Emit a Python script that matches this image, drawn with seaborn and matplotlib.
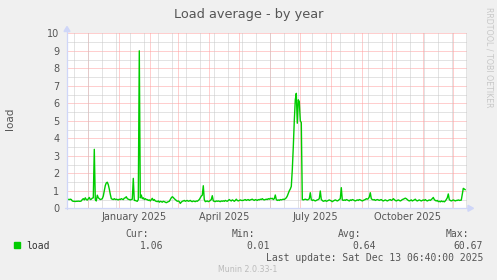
import matplotlib
matplotlib.use("Agg")
import matplotlib.pyplot as plt
import matplotlib.dates as mdates
from matplotlib.ticker import FixedLocator, MultipleLocator, NullFormatter
from matplotlib.patches import Rectangle, Polygon
from matplotlib.lines import Line2D
import numpy as np
import pandas as pd
import seaborn as sns

# ---------------- data ----------------
first_day = "2024-11-10"
view_start = "2024-11-09 17:00"
view_days = 400
load_values = [
    0.50, 0.51, 0.50, 0.52, 0.50, 0.42, 0.40, 0.40, 0.39, 0.40,
    0.40, 0.41, 0.40, 0.40, 0.42, 0.50, 0.55, 0.48, 0.60, 0.50,
    0.47, 0.55, 0.62, 0.50, 0.52, 0.58, 0.60, 3.37, 0.50, 0.42,
    0.75, 0.60, 0.55, 0.50, 0.52, 0.55, 0.70, 1.00, 1.30, 1.45,
    1.49, 1.35, 1.10, 0.80, 0.55, 0.52, 0.50, 0.55, 0.50, 0.52,
    0.50, 0.48, 0.52, 0.50, 0.55, 0.52, 0.50, 0.58, 0.60, 0.66,
    0.55, 0.52, 0.50, 0.48, 0.50, 0.52, 1.71, 0.45, 0.45, 0.42,
    0.40, 0.50, 9.00, 0.60, 0.76, 0.55, 0.60, 0.50, 0.55, 0.50,
    0.50, 0.45, 0.48, 0.42, 0.50, 0.57, 0.45, 0.50, 0.42, 0.40,
    0.38, 0.42, 0.35, 0.40, 0.38, 0.35, 0.40, 0.38, 0.35, 0.32,
    0.35, 0.38, 0.40, 0.50, 0.60, 0.66, 0.62, 0.55, 0.50, 0.45,
    0.40, 0.42, 0.38, 0.28, 0.35, 0.40, 0.42, 0.45, 0.40, 0.43,
    0.45, 0.40, 0.42, 0.45, 0.40, 0.38, 0.42, 0.40, 0.38, 0.42,
    0.40, 0.45, 0.50, 0.60, 0.70, 0.75, 1.29, 0.50, 0.38, 0.40,
    0.42, 0.38, 0.40, 0.45, 0.50, 0.72, 0.42, 0.40, 0.38, 0.42,
    0.40, 0.42, 0.40, 0.38, 0.42, 0.40, 0.43, 0.40, 0.45, 0.42,
    0.40, 0.45, 0.50, 0.45, 0.42, 0.48, 0.45, 0.40, 0.45, 0.52,
    0.45, 0.42, 0.45, 0.48, 0.45, 0.45, 0.45, 0.48, 0.50, 0.45,
    0.48, 0.50, 0.45, 0.48, 0.50, 0.52, 0.48, 0.45, 0.50, 0.48,
    0.45, 0.50, 0.48, 0.52, 0.50, 0.55, 0.50, 0.48, 0.50, 0.52,
    0.50, 0.55, 0.52, 0.57, 0.55, 0.57, 0.50, 0.55, 0.76, 0.50,
    0.45, 0.48, 0.45, 0.50, 0.48, 0.50, 0.52, 0.50, 0.55, 0.60,
    0.70, 0.85, 1.00, 1.10, 1.25, 2.20, 3.50, 5.00, 6.20, 6.57,
    4.86, 6.20, 6.10, 5.00, 4.90, 0.50, 0.48, 0.50, 0.52, 0.50,
    0.48, 0.50, 0.55, 0.89, 0.50, 0.45, 0.48, 0.45, 0.42, 0.45,
    0.48, 0.50, 0.55, 0.99, 0.50, 0.45, 0.40, 0.42, 0.45, 0.40,
    0.42, 0.45, 0.48, 0.45, 0.42, 0.38, 0.42, 0.45, 0.48, 0.45,
    0.42, 0.45, 0.50, 0.55, 1.18, 0.48, 0.45, 0.48, 0.45, 0.50,
    0.48, 0.45, 0.42, 0.48, 0.45, 0.50, 0.48, 0.45, 0.42, 0.45,
    0.48, 0.45, 0.50, 0.48, 0.45, 0.42, 0.45, 0.48, 0.50, 0.55,
    0.52, 0.55, 0.65, 0.89, 0.55, 0.50, 0.48, 0.50, 0.45, 0.48,
    0.50, 0.48, 0.45, 0.48, 0.50, 0.45, 0.42, 0.45, 0.48, 0.45,
    0.42, 0.45, 0.48, 0.50, 0.45, 0.48, 0.55, 0.50, 0.45, 0.42,
    0.45, 0.48, 0.45, 0.42, 0.45, 0.50, 0.52, 0.55, 0.58, 0.55,
    0.50, 0.45, 0.42, 0.45, 0.48, 0.42, 0.45, 0.48, 0.52, 0.45,
    0.42, 0.45, 0.48, 0.45, 0.42, 0.45, 0.48, 0.45, 0.50, 0.45,
    0.42, 0.45, 0.48, 0.45, 0.50, 0.55, 0.62, 0.50, 0.45, 0.42,
    0.45, 0.38, 0.40, 0.37, 0.42, 0.38, 0.40, 0.37, 0.42, 0.50,
    0.60, 0.82, 0.50, 0.45, 0.42, 0.45, 0.48, 0.45, 0.42, 0.45,
    0.45, 0.48, 0.45, 0.46, 0.47, 0.80, 1.14, 1.10, 1.06,
]
label_months = ["2025-01-01", "2025-04-01", "2025-07-01", "2025-10-01"]
minor_grid_anchor = "2024-11-03"
y_max = 10
title = "Load average - by year"
y_label = "load"
series_name = "load"
stat_names = ["Cur:", "Min:", "Avg:", "Max:"]
stat_values = ["1.06", "0.01", "0.64", "60.67"]
last_update = "Last update: Sat Dec 13 06:40:00 2025"
watermark = "RRDTOOL / TOBI OETIKER"
footer = "Munin 2.0.33-1"

# ---------------- style ----------------
W, H = 497, 280
BG = "#F0F0F0"
FONT_C = "#555555"
GREEN = "#00CC00"
MGRID = "#FF9E9E"
GRID = "#C8C8C8"
AXIS_C = "#CFD6F8"
DOT = (0, (1, 1))

sns.set_style("white")
plt.rcParams["font.family"] = ["DejaVu Sans"]

def fx(x):
    return x / W

def fy(y):
    return 1 - y / H

fig = plt.figure(figsize=(W / 100, H / 100), dpi=100, facecolor=BG)
L, R, T, B = 67, 467, 33.3, 208.3
ax = fig.add_axes([fx(L), fy(B), (R - L) / W, (B - T) / H])
ax.set_facecolor("white")

dates = pd.date_range(first_day, periods=len(load_values), freq="D")
df = pd.DataFrame({"date": dates, "load": load_values})

x0 = pd.Timestamp(view_start)
x1 = x0 + pd.Timedelta(days=view_days)

# minor (2-week) vertical grid
two_week = pd.date_range(minor_grid_anchor, x1, freq="14D")
ax.vlines(two_week, 0, y_max, colors=GRID, linewidth=0.72, linestyles=DOT, zorder=1)

sns.lineplot(data=df, x="date", y="load", ax=ax, color=GREEN, linewidth=1.0,
             estimator=None, zorder=5)

ax.set_xlim(x0, x1)
ax.set_ylim(0, y_max)

# x ticks: labels centered in mid-month, red grid at month starts
label_pos = [pd.Timestamp(m) + pd.Timedelta(days=15) for m in label_months]
ax.xaxis.set_major_locator(FixedLocator(mdates.date2num(label_pos)))
ax.set_xticklabels([pd.Timestamp(m).strftime("%B %Y") for m in label_months])
ax.xaxis.set_minor_locator(mdates.MonthLocator())
ax.xaxis.set_minor_formatter(NullFormatter())
ax.yaxis.set_major_locator(MultipleLocator(1))
ax.yaxis.set_minor_locator(MultipleLocator(0.5))

ax.grid(False)
ax.grid(which="minor", axis="x", color=MGRID, linewidth=0.72, linestyle=DOT, zorder=2)
ax.grid(which="major", axis="y", color=MGRID, linewidth=0.72, linestyle=DOT, zorder=2)
ax.grid(which="minor", axis="y", color=GRID, linewidth=0.72, linestyle=DOT, zorder=1)
ax.set_axisbelow(True)

ax.tick_params(axis="x", which="major", length=0, pad=3, labelsize=7, labelcolor=FONT_C)
ax.tick_params(axis="x", which="minor", length=2, width=0.72, color=MGRID, direction="out")
ax.tick_params(axis="y", which="major", length=2, width=0.72, color=MGRID, pad=3.5,
               labelsize=7, labelcolor=FONT_C)
ax.tick_params(axis="y", which="minor", length=0)
ax.set_xlabel("")
ax.set_ylabel("")
for s in ax.spines.values():
    s.set_visible(False)

# axis lines and arrows
fig.add_artist(Line2D([fx(L), fx(L)], [fy(B + 1), fy(31)], color=AXIS_C, linewidth=0.9))
fig.add_artist(Line2D([fx(L - 2), fx(469)], [fy(B), fy(B)], color=AXIS_C, linewidth=0.9))
fig.add_artist(Polygon([(fx(64), fy(31.5)), (fx(70), fy(31.5)), (fx(67), fy(26.5))],
                       closed=True, color=AXIS_C, transform=fig.transFigure))
fig.add_artist(Polygon([(fx(468), fy(B - 3)), (fx(468), fy(B + 3)), (fx(473.5), fy(B))],
                       closed=True, color=AXIS_C, transform=fig.transFigure))

# texts
fig.text(fx(248.5), fy(18.3), title, ha="center", va="baseline", fontsize=9.3, color=FONT_C)
fig.text(fx(10), fy(119), y_label, ha="center", va="center", rotation=90,
         fontsize=7.5, color=FONT_C)
fig.text(fx(488.5), fy(57), watermark, ha="center", va="center", rotation=270,
         fontsize=5.7, color="#C8C8C8")
fig.text(fx(248), fy(271.5), footer, ha="center", va="baseline", fontsize=5.7, color="#BBBBBB")

mono = "DejaVu Sans Mono"
fig.add_artist(Rectangle((fx(14), fy(248.3)), 6 / W, 6 / H, color=GREEN,
                         transform=fig.transFigure))
fig.text(fx(26), fy(249.3), series_name, ha="left", va="baseline", fontsize=7,
         family=mono, color="#333333")
head_right = [149, 255.5, 361.7, 469]
for name, val, xr in zip(stat_names, stat_values, head_right):
    fig.text(fx(xr), fy(237.3), name, ha="right", va="baseline", fontsize=7,
             family=mono, color=FONT_C)
    fig.text(fx(xr + 14.2), fy(249.3), val, ha="right", va="baseline", fontsize=7,
             family=mono, color=FONT_C)
fig.text(fx(483.5), fy(260.7), last_update, ha="right", va="baseline", fontsize=7,
         family=mono, color=FONT_C)

fig.savefig("out.png", dpi=100, facecolor=BG)
